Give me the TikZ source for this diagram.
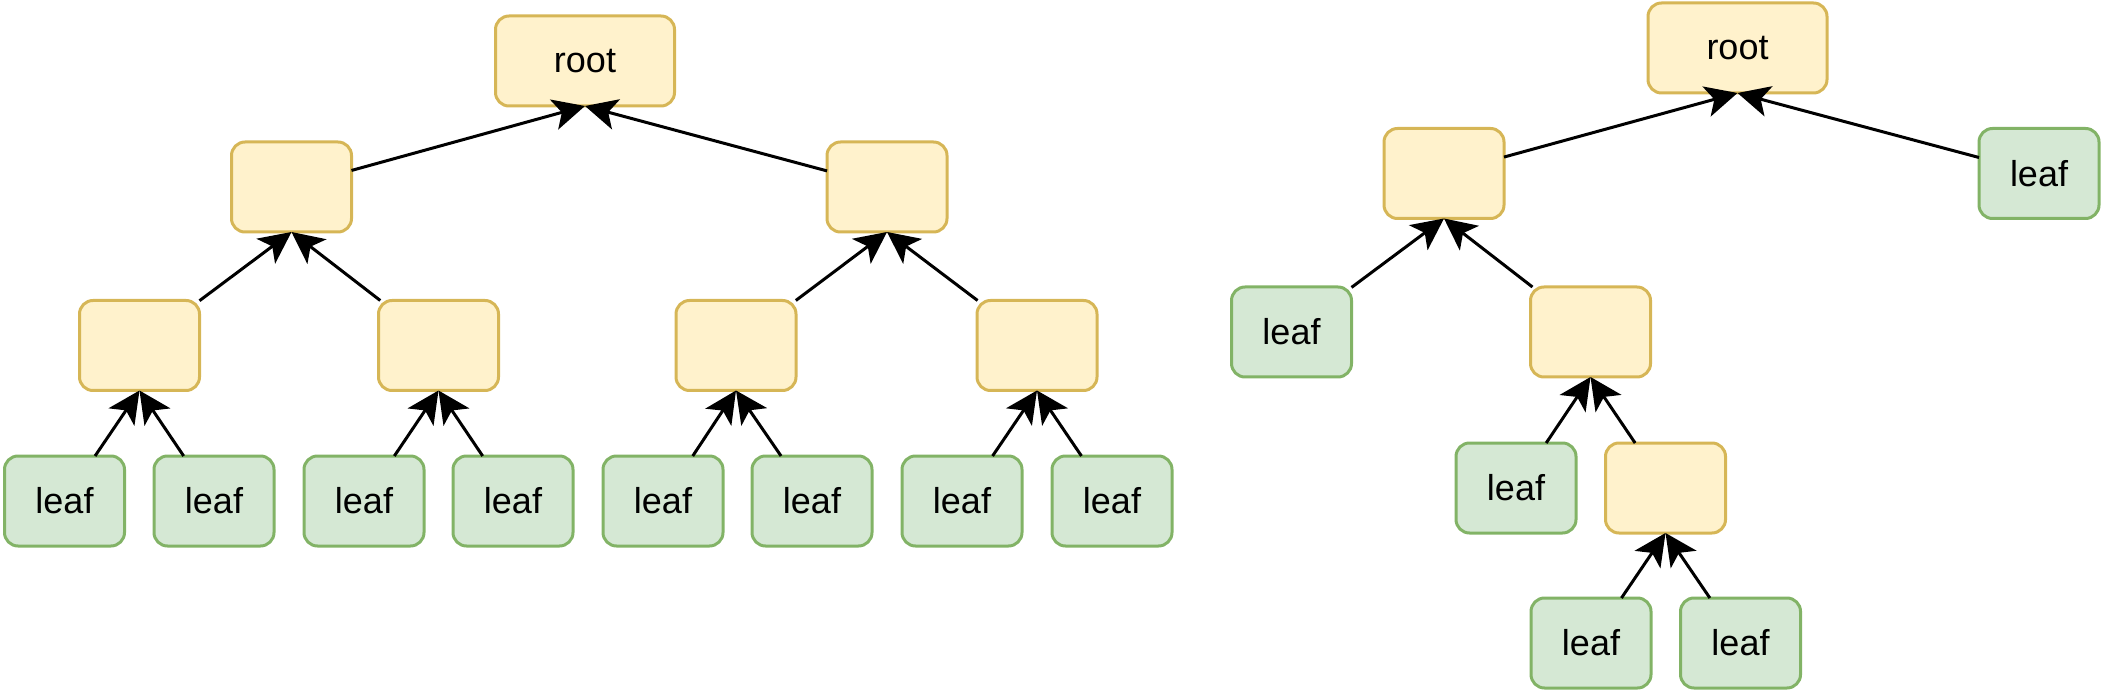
\documentclass[tikz,border=0pt]{standalone}
\usepackage{fontspec}
\setmainfont{Liberation Sans}
\usetikzlibrary{arrows.meta}
\definecolor{yfill}{HTML}{FFF2CC}
\definecolor{ydraw}{HTML}{D6B656}
\definecolor{gfill}{HTML}{D5E8D4}
\definecolor{gdraw}{HTML}{82B366}
\tikzset{
  box/.style={rectangle, rounded corners=13.5pt, line width=3pt, minimum width=120pt, minimum height=90pt, inner sep=0pt, outer sep=0pt, font=\fontsize{36}{40}\selectfont},
  inner/.style={box, fill=yfill, draw=ydraw},
  rootbox/.style={box, fill=yfill, draw=ydraw, minimum width=179pt},
  leafbox/.style={box, fill=gfill, draw=gdraw},
  arr/.style={line width=3pt, -{Stealth[length=32pt, width=31pt, inset=8pt]}}
}
\begin{document}
\begin{tikzpicture}[x=1pt, y=-1pt]
\useasboundingbox (0,0) rectangle (2104,700);
% left tree
\node[rootbox] (r) at (585,61) {root};
\node[inner] (a1) at (291.5,187) {};
\node[inner] (a2) at (887,187) {};
\node[inner] (b1) at (139.5,345.5) {};
\node[inner] (b2) at (438.5,345.5) {};
\node[inner] (b3) at (736,345.5) {};
\node[inner] (b4) at (1037,345.5) {};
\node[leafbox] (l1) at (64.5,501) {leaf};
\node[leafbox] (l2) at (214,501) {leaf};
\node[leafbox] (l3) at (364,501) {leaf};
\node[leafbox] (l4) at (513,501) {leaf};
\node[leafbox] (l5) at (663,501) {leaf};
\node[leafbox] (l6) at (812,501) {leaf};
\node[leafbox] (l7) at (962,501) {leaf};
\node[leafbox] (l8) at (1112,501) {leaf};
\draw[arr] (a1) -- (r.south);
\draw[arr] (a2) -- (r.south);
\draw[arr] (b1) -- (a1.south);
\draw[arr] (b2) -- (a1.south);
\draw[arr] (b3) -- (a2.south);
\draw[arr] (b4) -- (a2.south);
\draw[arr] (l1) -- (b1.south);
\draw[arr] (l2) -- (b1.south);
\draw[arr] (l3) -- (b2.south);
\draw[arr] (l4) -- (b2.south);
\draw[arr] (l5) -- (b3.south);
\draw[arr] (l6) -- (b3.south);
\draw[arr] (l7) -- (b4.south);
\draw[arr] (l8) -- (b4.south);
% right tree
\node[rootbox] (R) at (1737.5,48) {root};
\node[inner] (c1) at (1444,173.5) {};
\node[leafbox] (m1) at (2039,173.5) {leaf};
\node[leafbox] (m2) at (1291.5,332) {leaf};
\node[inner] (c2) at (1590.5,332) {};
\node[leafbox] (m3) at (1516,488) {leaf};
\node[inner] (c3) at (1665.5,488) {};
\node[leafbox] (m4) at (1591,643) {leaf};
\node[leafbox] (m5) at (1740.5,643) {leaf};
\draw[arr] (c1) -- (R.south);
\draw[arr] (m1) -- (R.south);
\draw[arr] (m2) -- (c1.south);
\draw[arr] (c2) -- (c1.south);
\draw[arr] (m3) -- (c2.south);
\draw[arr] (c3) -- (c2.south);
\draw[arr] (m4) -- (c3.south);
\draw[arr] (m5) -- (c3.south);
\end{tikzpicture}
\end{document}
